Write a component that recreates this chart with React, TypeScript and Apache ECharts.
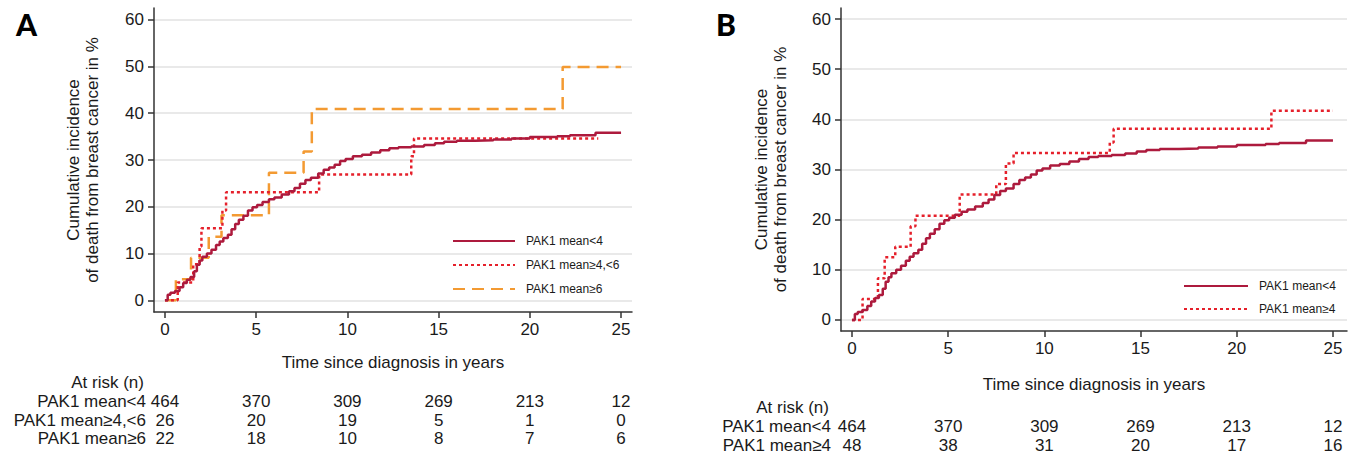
import React, { useEffect, useRef } from "react";
import * as echarts from "echarts";

const FONT = "'Liberation Sans', Arial, Helvetica, sans-serif";
const TXT = "#1a1a1a";
const AXIS = "#333333";
const FS = 17;

const yTicks = [0, 10, 20, 30, 40, 50, 60];
const xTicks = [0, 5, 10, 15, 20, 25];

// PAK1 mean<4 (same group in both panels)
const lowT = [0, 0.15, 0.3, 0.55, 0.8, 1.0, 1.2, 1.4, 1.6, 1.75, 1.9, 2.05, 2.3, 2.55, 2.8, 3.0, 3.2, 3.45, 3.65, 3.85, 4.05, 4.3, 4.55, 4.8, 5.05, 5.35, 5.7, 6.0, 6.4, 6.8, 7.1, 7.4, 7.7, 8.0, 8.4, 8.7, 9.0, 9.3, 9.6, 9.9, 10.3, 10.8, 11.3, 11.8, 12.3, 12.8, 13.5, 14.2, 14.8, 15.3, 16.0, 17.0, 18.0, 19.0, 20.0, 21.5, 22.2, 23.6, 25.0];
const lowV = [0, 1.2, 1.6, 2.0, 2.8, 3.7, 4.4, 5.0, 6.2, 7.6, 8.5, 9.3, 10.0, 10.8, 11.8, 12.6, 13.3, 14.0, 15.2, 16.3, 17.2, 18.1, 19.2, 19.9, 20.4, 21.0, 21.6, 22.0, 22.6, 23.3, 24.0, 24.9, 25.7, 26.2, 27.1, 27.9, 28.4, 29.0, 29.8, 30.2, 30.8, 31.1, 31.6, 32.1, 32.5, 32.7, 32.9, 33.2, 33.6, 33.9, 34.1, 34.2, 34.4, 34.6, 34.9, 35.1, 35.3, 35.8, 35.8];

// PAK1 mean>=4,<6 (panel A)
const midT = [0, 0.7, 1.55, 1.9, 2.0, 3.15, 3.35, 8.45, 13.5, 13.65, 23.75];
const midV = [0, 3.8, 7.7, 11.5, 15.4, 19.2, 23.1, 26.9, 30.8, 34.6, 34.6];

// PAK1 mean>=6 (panel A)
const highT = [0, 0.6, 1.43, 2.4, 3.1, 5.7, 7.6, 8.05, 21.8, 25.0];
const highV = [0, 4.5, 9.1, 13.6, 18.2, 27.3, 31.8, 40.9, 49.9, 49.9];

// PAK1 mean>=4 (panel B)
const geT = [0, 0.55, 1.35, 1.7, 2.25, 3.05, 3.3, 5.6, 7.5, 8.0, 8.4, 13.4, 13.6, 21.8, 25.0];
const geV = [0, 4.2, 8.3, 12.5, 14.6, 18.7, 20.8, 25.0, 27.1, 31.2, 33.3, 35.4, 38.1, 41.7, 41.7];

const riskTimes = [0, 5, 10, 15, 20, 25];
const riskALabels = ["PAK1 mean<4", "PAK1 mean≥4,<6", "PAK1 mean≥6"];
const riskARows = [
  [464, 370, 309, 269, 213, 12],
  [26, 20, 19, 5, 1, 0],
  [22, 18, 10, 8, 7, 6],
];
const riskBLabels = ["PAK1 mean<4", "PAK1 mean≥4"];
const riskBRows = [
  [464, 370, 309, 269, 213, 12],
  [48, 38, 31, 20, 17, 16],
];

const C_LOW = "#ad1a3d";
const C_MID = "#e5202b";
const C_HIGH = "#f39a32";

const pairs = (t: number[], v: number[]) => t.map((x, i) => [x, v[i]]);

const mkX = (gridIndex: number, min: number, max: number, nameGap: number) => ({
  type: "value",
  gridIndex,
  min,
  max,
  name: "Time since diagnosis in years",
  nameLocation: "middle",
  nameGap,
  nameTextStyle: { fontFamily: FONT, fontSize: FS, color: TXT },
  axisLine: { onZero: false, lineStyle: { color: AXIS, width: 1.5 } },
  axisTick: { show: true, length: 6, customValues: xTicks, lineStyle: { color: AXIS, width: 1.5 } },
  axisLabel: { customValues: xTicks, margin: 9, fontFamily: FONT, fontSize: FS, color: TXT },
  splitLine: { show: false },
});

const mkY = (gridIndex: number, min: number, max: number, nameGap: number) => ({
  type: "value",
  gridIndex,
  min,
  max,
  name: "Cumulative incidence\nof death from breast cancer in %",
  nameLocation: "middle",
  nameGap,
  nameTextStyle: { fontFamily: FONT, fontSize: FS, lineHeight: 19, color: TXT },
  axisLine: { onZero: false, lineStyle: { color: AXIS, width: 1.5 } },
  axisTick: { show: true, length: 6, customValues: yTicks, lineStyle: { color: AXIS, width: 1.5 } },
  axisLabel: { customValues: yTicks, margin: 10, fontFamily: FONT, fontSize: FS, color: TXT },
  splitLine: { show: true, lineStyle: { color: "#e2e2e2", width: 1.5 } },
});

const lineSeries = (name: string, xi: number, t: number[], v: number[], color: string, type: any, z: number) => ({
  type: "line",
  name,
  xAxisIndex: xi,
  yAxisIndex: xi,
  data: pairs(t, v),
  step: "end",
  symbol: "none",
  showSymbol: false,
  z,
  lineStyle: { color, width: 2.5, type },
  itemStyle: { color },
});

const legendBase = {
  orient: "vertical",
  padding: 0,
  itemHeight: 14,
  selectedMode: false,
  itemStyle: { opacity: 0, borderWidth: 0 },
  lineStyle: { opacity: 1 },
  textStyle: { fontFamily: FONT, fontSize: 12, color: TXT, padding: [0, 0, 0, 6] },
};

export default function App() {
  const ref = useRef<HTMLDivElement>(null);
  useEffect(() => {
    if (!ref.current) return;
    const chart = echarts.init(ref.current, undefined, { renderer: "svg" });
    chart.setOption({
      animation: false,
      backgroundColor: "#ffffff",
      grid: [
        { left: 154, top: 8, width: 478, height: 304, containLabel: false },
        { left: 841, top: 8, width: 506, height: 323, containLabel: false },
      ],
      xAxis: [mkX(0, -0.6, 25.6, 42), mkX(1, -0.57, 25.73, 45)],
      yAxis: [mkY(0, -2.5, 62.5, 52), mkY(1, -2.2, 62.2, 51)],
      legend: [
        {
          ...legendBase,
          data: ["PAK1 mean<4", "PAK1 mean≥4,<6", "PAK1 mean≥6"],
          left: 452,
          top: 235,
          itemWidth: 62,
          itemGap: 12,
        },
        {
          ...legendBase,
          data: ["PAK1 mean<4", "PAK1 mean≥4"],
          left: 1183,
          top: 280,
          itemWidth: 64,
          itemGap: 11,
        },
      ],
      series: [
        lineSeries("PAK1 mean≥6", 0, highT, highV, C_HIGH, [12, 7], 2),
        lineSeries("PAK1 mean≥4,<6", 0, midT, midV, C_MID, [3, 3], 3),
        lineSeries("PAK1 mean<4", 0, lowT, lowV, C_LOW, "solid", 4),
        lineSeries("PAK1 mean≥4", 1, geT, geV, C_MID, [3, 3], 3),
        lineSeries("PAK1 mean<4", 1, lowT, lowV, C_LOW, "solid", 4),
      ],
    });

    const g: any[] = [];
    const txt = (text: string, x: number, y: number, align: string, extra: any = {}) => ({
      type: "text",
      x,
      y,
      silent: true,
      style: { text, fill: TXT, fontFamily: FONT, fontSize: FS, align, verticalAlign: "middle", ...extra },
    });
    g.push(txt("A", 16, 24, "left", { fontFamily: "Lato, 'Open Sans', sans-serif", fontWeight: 900, fontSize: 30, fill: "#000" }));
    g.push(txt("B", 716, 24, "left", { fontFamily: "Lato, 'Open Sans', sans-serif", fontWeight: 900, fontSize: 30, fill: "#000" }));

    const table = (axisIdx: number, labelRight: number, headY: number, rowYs: number[], labels: string[], rows: number[][]) => {
      g.push(txt("At risk (n)", labelRight - 2, headY, "right"));
      rows.forEach((row, r) => {
        g.push(txt(labels[r], labelRight, rowYs[r], "right"));
        row.forEach((n, c) => {
          const px = chart.convertToPixel({ xAxisIndex: axisIdx } as any, riskTimes[c]) as any;
          g.push(txt(String(n), px, rowYs[r], "center"));
        });
      });
    };
    table(0, 146, 382, [401, 420, 438], riskALabels, riskARows);
    table(1, 831, 407, [426, 445], riskBLabels, riskBRows);

    chart.setOption({ graphic: g });
    return () => chart.dispose();
  }, []);
  return <div ref={ref} style={{ position: "absolute", left: 0, top: 0, width: 1355, height: 455 }} />;
}
